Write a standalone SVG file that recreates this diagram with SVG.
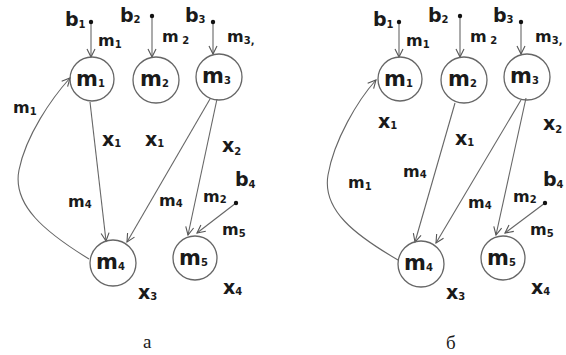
<svg xmlns="http://www.w3.org/2000/svg" width="566" height="355" viewBox="0 0 566 355">
<style>
.c{fill:none;stroke:#666;stroke-width:1.3}
.l{fill:none;stroke:#666;stroke-width:1.1}
.dot{fill:#111}
text{font-family:"DejaVu Sans","Liberation Sans",sans-serif;fill:#1a1a1a;font-weight:bold}
.n{font-size:21px}
.a{font-size:16px}
.b{font-size:19px}
.x{font-size:19px}
.s{font-size:10px}
.cap{font-family:"Liberation Serif","Times New Roman",serif;font-weight:normal;font-size:19px}
</style>
<defs>
<marker id="ar" markerUnits="userSpaceOnUse" markerWidth="12" markerHeight="12" refX="9" refY="5" orient="auto">
<path d="M1,1 L9,5 L1,9" fill="none" stroke="#555" stroke-width="1.1"/>
</marker>
</defs>

<!-- Panel a -->
<g id="a-connectors">
<line class="l" x1="91" y1="22" x2="91" y2="57" marker-end="url(#ar)"/>
<line class="l" x1="152" y1="16" x2="152" y2="57" marker-end="url(#ar)"/>
<line class="l" x1="213" y1="22" x2="213" y2="54" marker-end="url(#ar)"/>
<line class="l" x1="90" y1="102" x2="106" y2="241" marker-end="url(#ar)"/>
<path class="l" d="M89,259 C45,232 12,205 19,170 C26,135 52,98 70,78" marker-end="url(#ar)"/>
<line class="l" x1="210" y1="99" x2="127" y2="242" marker-end="url(#ar)"/>
<line class="l" x1="217" y1="99" x2="188" y2="235" marker-end="url(#ar)"/>
<line class="l" x1="236" y1="203" x2="197" y2="233" marker-end="url(#ar)"/>
</g>
<g id="a-b1"><circle class="dot" cx="91" cy="22" r="2.2"/><text class="b" x="65" y="26">b<tspan class="s" dy="2">1</tspan></text></g>
<g id="a-b2"><circle class="dot" cx="152" cy="16" r="2.2"/><text class="b" x="120" y="22">b<tspan class="s" dy="1">2</tspan></text></g>
<g id="a-b3"><circle class="dot" cx="213" cy="22" r="2.2"/><text class="b" x="185" y="22">b<tspan class="s" dy="1">3</tspan></text></g>
<g id="a-b4"><circle class="dot" cx="236" cy="203" r="2.2"/><text class="b" x="235" y="186">b<tspan class="s" dy="2">4</tspan></text></g>
<g id="a-m1"><circle class="c" cx="92" cy="79" r="22"/><text class="n" x="76" y="86">m<tspan class="s" dy="1">1</tspan></text></g>
<g id="a-m2"><circle class="c" cx="156" cy="80" r="23"/><text class="n" x="140" y="86">m<tspan class="s" dy="1">2</tspan></text></g>
<g id="a-m3"><circle class="c" cx="219" cy="77" r="23"/><text class="n" x="202" y="83">m<tspan class="s" dy="1">3</tspan></text></g>
<g id="a-m4"><circle class="c" cx="113" cy="263" r="23"/><text class="n" x="96" y="269">m<tspan class="s" dy="1">4</tspan></text></g>
<g id="a-m5"><circle class="c" cx="195" cy="258" r="22"/><text class="n" x="179" y="265">m<tspan class="s" dy="1">5</tspan></text></g>
<g id="a-labels">
<text class="a" x="98" y="46">m<tspan class="s" dy="2">1</tspan></text>
<text class="a" x="162" y="42">m<tspan class="s" dy="2"> 2</tspan></text>
<text class="a" x="227" y="42">m<tspan class="s" dy="2">3,</tspan></text>
<text class="a" x="13" y="113">m<tspan class="s" dy="2">1</tspan></text>
<text class="x" x="102" y="146">x<tspan class="s" dy="1">1</tspan></text>
<text class="x" x="145" y="146">x<tspan class="s" dy="1">1</tspan></text>
<text class="x" x="222" y="152">x<tspan class="s" dy="3">2</tspan></text>
<text class="a" x="68" y="207">m<tspan class="s" dy="1">4</tspan></text>
<text class="a" x="159" y="206">m<tspan class="s" dy="1">4</tspan></text>
<text class="a" x="203" y="202">m<tspan class="s" dy="1">2</tspan></text>
<text class="a" x="222" y="235">m<tspan class="s" dy="2">5</tspan></text>
<text class="x" x="138" y="299">x<tspan class="s" dy="1">3</tspan></text>
<text class="x" x="223" y="294">x<tspan class="s" dy="1">4</tspan></text>
<text class="cap" x="143" y="348">а</text>
</g>

<!-- Panel b -->
<g id="b-connectors">
<line class="l" x1="399" y1="22" x2="399" y2="57" marker-end="url(#ar)"/>
<line class="l" x1="460" y1="16" x2="460" y2="57" marker-end="url(#ar)"/>
<line class="l" x1="521" y1="22" x2="521" y2="54" marker-end="url(#ar)"/>
<line class="l" x1="455" y1="103" x2="415" y2="242" marker-end="url(#ar)"/>
<path class="l" d="M398,260 C355,235 322,210 328,175 C334,140 358,100 376,80" marker-end="url(#ar)"/>
<line class="l" x1="521" y1="100" x2="436" y2="243" marker-end="url(#ar)"/>
<line class="l" x1="526" y1="98" x2="496" y2="235" marker-end="url(#ar)"/>
<line class="l" x1="545" y1="203" x2="505" y2="233" marker-end="url(#ar)"/>
</g>
<g id="b-b1"><circle class="dot" cx="399" cy="22" r="2.2"/><text class="b" x="373" y="26">b<tspan class="s" dy="2">1</tspan></text></g>
<g id="b-b2"><circle class="dot" cx="460" cy="16" r="2.2"/><text class="b" x="428" y="22">b<tspan class="s" dy="1">2</tspan></text></g>
<g id="b-b3"><circle class="dot" cx="521" cy="22" r="2.2"/><text class="b" x="493" y="22">b<tspan class="s" dy="1">3</tspan></text></g>
<g id="b-b4"><circle class="dot" cx="545" cy="203" r="2.2"/><text class="b" x="543" y="186">b<tspan class="s" dy="2">4</tspan></text></g>
<g id="b-m1"><circle class="c" cx="400" cy="79" r="22"/><text class="n" x="384" y="86">m<tspan class="s" dy="1">1</tspan></text></g>
<g id="b-m2"><circle class="c" cx="464" cy="80" r="23"/><text class="n" x="448" y="86">m<tspan class="s" dy="1">2</tspan></text></g>
<g id="b-m3"><circle class="c" cx="527" cy="77" r="23"/><text class="n" x="510" y="83">m<tspan class="s" dy="1">3</tspan></text></g>
<g id="b-m4"><circle class="c" cx="421" cy="264" r="23"/><text class="n" x="404" y="270">m<tspan class="s" dy="1">4</tspan></text></g>
<g id="b-m5"><circle class="c" cx="503" cy="258" r="22"/><text class="n" x="487" y="265">m<tspan class="s" dy="1">5</tspan></text></g>
<g id="b-labels">
<text class="a" x="406" y="46">m<tspan class="s" dy="2">1</tspan></text>
<text class="a" x="470" y="42">m<tspan class="s" dy="2"> 2</tspan></text>
<text class="a" x="535" y="42">m<tspan class="s" dy="2">3,</tspan></text>
<text class="x" x="378" y="128">x<tspan class="s" dy="1">1</tspan></text>
<text class="x" x="455" y="145">x<tspan class="s" dy="1">1</tspan></text>
<text class="x" x="543" y="130">x<tspan class="s" dy="3">2</tspan></text>
<text class="a" x="403" y="177">m<tspan class="s" dy="1">4</tspan></text>
<text class="a" x="348" y="188">m<tspan class="s" dy="2">1</tspan></text>
<text class="a" x="468" y="208">m<tspan class="s" dy="1">4</tspan></text>
<text class="a" x="513" y="202">m<tspan class="s" dy="1">2</tspan></text>
<text class="a" x="530" y="235">m<tspan class="s" dy="2">5</tspan></text>
<text class="x" x="446" y="299">x<tspan class="s" dy="1">3</tspan></text>
<text class="x" x="531" y="294">x<tspan class="s" dy="1">4</tspan></text>
<text class="cap" x="446" y="349">б</text>
</g>
</svg>
